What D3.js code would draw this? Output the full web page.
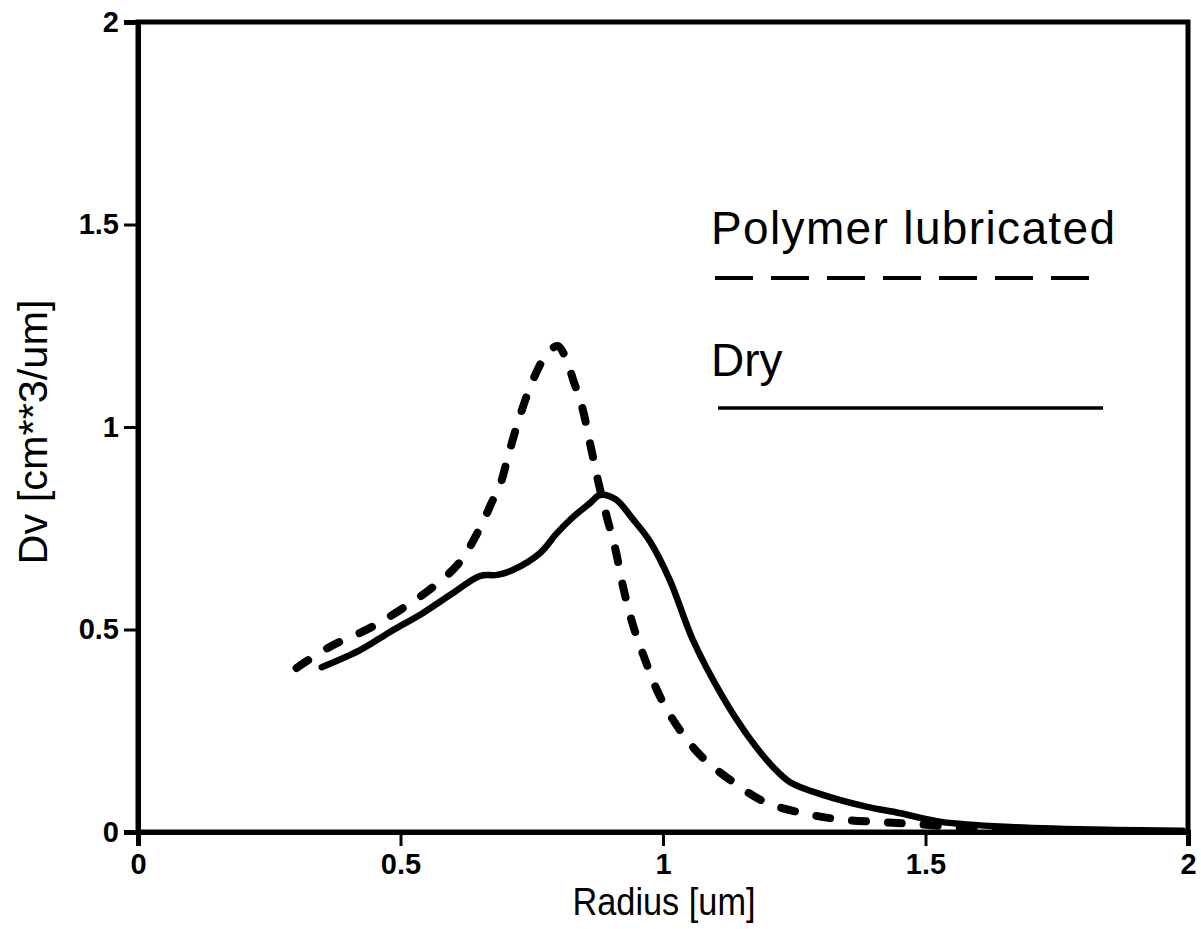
<!DOCTYPE html>
<html>
<head>
<meta charset="utf-8">
<script src="https://cdn.jsdelivr.net/npm/d3@7"></script>
<style>
  html, body { margin: 0; padding: 0; background: #fff; }
  svg { display: block; }
</style>
</head>
<body>
<svg id="chart" width="1201" height="929"></svg>
<script>
// ---- data ----
const xTicks = [0, 0.5, 1, 1.5, 2];
const xTickLabels = ["0", "0.5", "1", "1.5", "2"];
const yTicks = [0, 0.5, 1, 1.5, 2];
const yTickLabels = ["0", "0.5", "1", "1.5", "2"];

const seriesNames = ["Polymer lubricated", "Dry"];

// Polymer lubricated (dashed)
const polyRadius = [0.302, 0.365, 0.442, 0.505, 0.562, 0.612, 0.648, 0.676, 0.690, 0.705, 0.724, 0.747, 0.771, 0.790, 0.800, 0.815, 0.829, 0.846, 0.861, 0.876, 0.893, 0.909, 0.924, 0.943, 0.966, 0.994, 1.032, 1.076, 1.134, 1.194, 1.265, 1.331, 1.404, 1.478, 1.58, 1.70, 1.83];
const polyDv     = [0.405, 0.457, 0.504, 0.553, 0.605, 0.665, 0.742, 0.820, 0.858, 0.928, 1.013, 1.099, 1.165, 1.195, 1.200, 1.170, 1.116, 1.049, 0.960, 0.869, 0.778, 0.700, 0.605, 0.510, 0.425, 0.335, 0.252, 0.183, 0.123, 0.074, 0.047, 0.032, 0.025, 0.020, 0.010, 0.006, 0.004];

// Dry (solid)
const dryRadius = [0.350, 0.423, 0.480, 0.543, 0.600, 0.651, 0.684, 0.714, 0.766, 0.798, 0.829, 0.861, 0.880, 0.909, 0.943, 0.975, 1.013, 1.057, 1.114, 1.163, 1.210, 1.242, 1.306, 1.389, 1.45, 1.53, 1.67, 1.86, 1.99];
const dryDv     = [0.407, 0.449, 0.494, 0.541, 0.590, 0.632, 0.635, 0.647, 0.689, 0.738, 0.778, 0.812, 0.832, 0.822, 0.772, 0.718, 0.622, 0.474, 0.333, 0.235, 0.160, 0.123, 0.091, 0.062, 0.047, 0.025, 0.012, 0.005, 0.003];

const xTitle = "Radius [um]";
const yTitle = "Dv [cm**3/um]";

// ---- drawing ----
const svg = d3.select("#chart");
const x = d3.scaleLinear().domain([0, 2]).range([138, 1188]);
const y = d3.scaleLinear().domain([0, 2]).range([832, 22]);

const font = "'Liberation Sans', Arial, sans-serif";

// frame
svg.append("rect")
  .attr("x", x(0)).attr("y", y(2))
  .attr("width", x(2) - x(0)).attr("height", y(0) - y(2))
  .attr("fill", "none").attr("stroke", "#000").attr("stroke-width", 5);

// axes
const xAxis = d3.axisBottom(x).tickValues(xTicks)
  .tickFormat((d, i) => xTickLabels[i]).tickSize(14).tickPadding(6);
const yAxis = d3.axisLeft(y).tickValues(yTicks)
  .tickFormat((d, i) => yTickLabels[i]).tickSize(14).tickPadding(5);

const gx = svg.append("g").attr("transform", `translate(0,${y(0)})`).call(xAxis);
const gy = svg.append("g").attr("transform", `translate(${x(0)},0)`).call(yAxis);

[gx, gy].forEach(g => {
  g.select(".domain").attr("stroke", "#000").attr("stroke-width", 5);
  g.selectAll(".tick line").attr("stroke", "#000").attr("stroke-width", 3);
  g.selectAll(".tick text")
    .attr("fill", "#000")
    .style("font-family", font)
    .style("font-size", "29px")
    .style("font-weight", "bold");
});
gx.selectAll(".tick text").attr("dy", "0.75em");

// lines
const line = d3.line()
  .x(d => x(d[0])).y(d => y(d[1]))
  .curve(d3.curveCatmullRom.alpha(0.5));

const polyData = polyRadius.map((r, i) => [r, polyDv[i]]);
const dryData = dryRadius.map((r, i) => [r, dryDv[i]]);

svg.append("path").datum(dryData)
  .attr("d", line)
  .attr("fill", "none").attr("stroke", "#000")
  .attr("stroke-width", 6.5)
  .attr("stroke-linejoin", "round").attr("stroke-linecap", "round");

svg.append("path").datum(polyData)
  .attr("d", line)
  .attr("fill", "none").attr("stroke", "#000")
  .attr("stroke-width", 8)
  .attr("stroke-dasharray", "14,22")
  .attr("stroke-linecap", "round");

// axis titles
svg.append("text")
  .attr("x", (x(0) + x(2)) / 2 + 1).attr("y", 915)
  .attr("text-anchor", "middle")
  .attr("textLength", 183).attr("lengthAdjust", "spacingAndGlyphs")
  .style("font-family", font).style("font-size", "38px")
  .text(xTitle);

svg.append("text")
  .attr("transform", "translate(47,432) rotate(-90)")
  .attr("text-anchor", "middle")
  .attr("textLength", 265).attr("lengthAdjust", "spacingAndGlyphs")
  .style("font-family", font).style("font-size", "40px")
  .text(yTitle);

// legend
const legend = svg.append("g");
legend.append("text")
  .attr("x", 711).attr("y", 244)
  .attr("textLength", 404).attr("lengthAdjust", "spacing")
  .style("font-family", font).style("font-size", "46px")
  .text(seriesNames[0]);
legend.append("line")
  .attr("x1", 715).attr("x2", 1095).attr("y1", 278).attr("y2", 278)
  .attr("stroke", "#000").attr("stroke-width", 4)
  .attr("stroke-dasharray", "38,18");

legend.append("text")
  .attr("x", 711).attr("y", 376)
  .style("font-family", font).style("font-size", "46px")
  .text(seriesNames[1]);
legend.append("line")
  .attr("x1", 718).attr("x2", 1103).attr("y1", 408).attr("y2", 408)
  .attr("stroke", "#000").attr("stroke-width", 3.5);
</script>
</body>
</html>
